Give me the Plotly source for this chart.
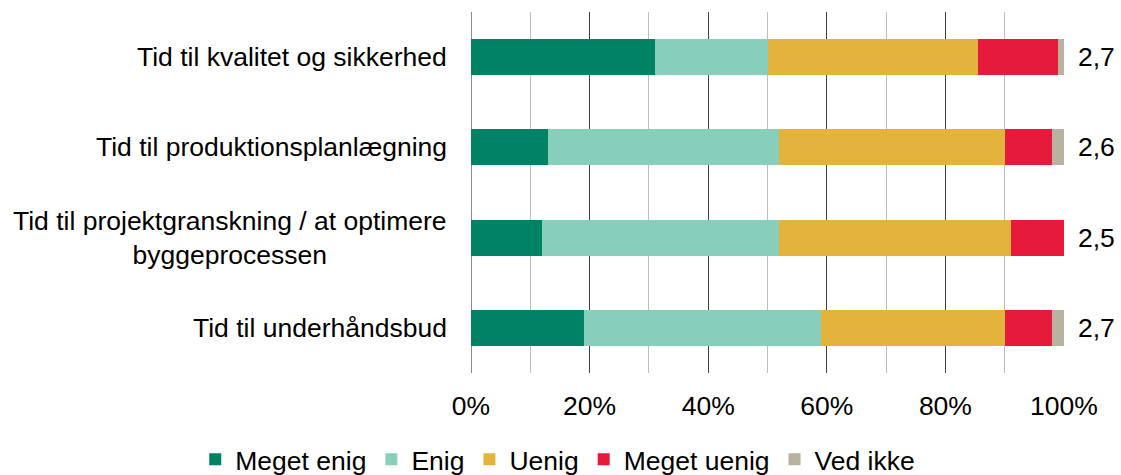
import plotly.graph_objects as go

categories = [
    "Tid til kvalitet og sikkerhed",
    "Tid til produktionsplanlægning",
    "Tid til projektgranskning / at optimere<br>byggeprocessen",
    "Tid til underhåndsbud",
]
meget_enig = [31, 13, 12, 19]
enig = [19, 39, 40, 40]
uenig = [35.5, 38, 39, 31]
meget_uenig = [13.5, 8, 9, 8]
ved_ikke = [1, 2, 0, 2]
averages = ["2,7", "2,6", "2,5", "2,7"]

series_names = ["Meget enig", "Enig", "Uenig", "Meget uenig", "Ved ikke"]
series_values = [meget_enig, enig, uenig, meget_uenig, ved_ikke]
series_colors = ["#008264", "#88cfbb", "#e3b33b", "#e61a3a", "#b9b29f"]

x_ticks = [0, 20, 40, 60, 80, 100]

FONT = "Liberation Sans, Arial, sans-serif"
FS = 26.5

fig = go.Figure()
for name, vals, col in zip(series_names, series_values, series_colors):
    fig.add_trace(go.Bar(
        y=categories, x=vals, name=name, orientation="h",
        marker=dict(color=col, line=dict(width=0)),
        width=0.4,
    ))

for cat, avg in zip(categories, averages):
    fig.add_annotation(x=0, xref="paper", y=cat, yref="y", text=cat,
                       xanchor="right", yanchor="middle", align="center",
                       xshift=-22, showarrow=False,
                       font=dict(family=FONT, size=FS, color="black"))
    fig.add_annotation(x=1, xref="paper", y=cat, yref="y", text=avg,
                       xanchor="left", yanchor="middle",
                       xshift=12, showarrow=False,
                       font=dict(family=FONT, size=FS, color="black"))

fig.update_layout(
    barmode="stack",
    width=1121, height=475,
    margin=dict(l=471, r=57, t=12, b=102, autoexpand=False),
    paper_bgcolor="white", plot_bgcolor="white",
    font=dict(family=FONT, size=FS, color="black"),
    showlegend=True,
    legend=dict(orientation="h", xref="paper", yref="paper",
                x=-0.465, xanchor="left", y=-0.24, yanchor="middle",
                font=dict(family=FONT, size=FS, color="black"),
                traceorder="normal", itemclick=False,
                bgcolor="rgba(0,0,0,0)"),
    xaxis=dict(range=[0, 100], tickvals=x_ticks,
               ticktext=[f"{v}%" for v in x_ticks],
               showgrid=True, gridcolor="#404040", gridwidth=1,
               minor=dict(dtick=10, showgrid=True, gridcolor="#bdbdbd", gridwidth=1.2),
               zeroline=True, zerolinecolor="#8c8c8c", zerolinewidth=1.3,
               showline=False, ticks="", ticklabelstandoff=14,
               automargin=False,
               tickfont=dict(family=FONT, size=FS, color="black"),
               fixedrange=True),
    yaxis=dict(autorange="reversed", showticklabels=False, showgrid=False,
               zeroline=False, showline=False, ticks="", fixedrange=True,
               automargin=False),
)

fig.write_html("out.html",
               post_script="document.body.style.margin='0';document.body.style.overflow='hidden';",
               config={"displayModeBar": False})
